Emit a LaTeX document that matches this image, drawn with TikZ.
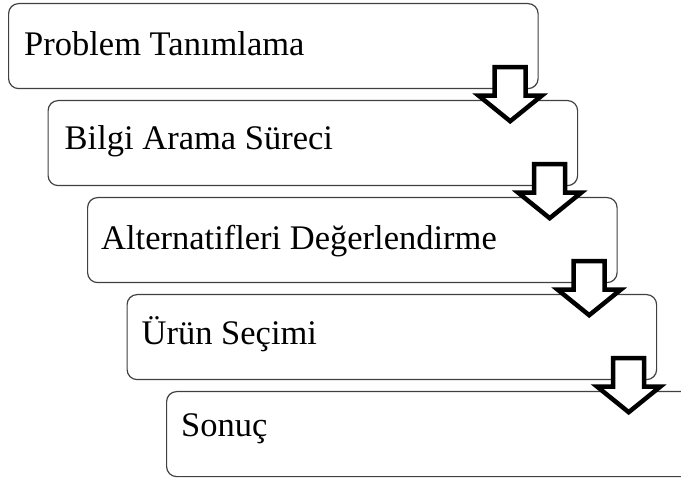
\documentclass[tikz,border=0pt]{standalone}
\usepackage{fontspec}
\setmainfont{Liberation Serif}
\usetikzlibrary{calc,positioning}

\tikzset{
  stage/.style={draw=black!75, line width=1.2pt, fill=white, rounded corners=10pt,
    minimum width=529.5pt, minimum height=85pt, inner sep=0pt, anchor=north west},
  stagetext/.style={anchor=base west, inner sep=0pt, font=\fontsize{34.5pt}{40pt}\selectfont},
  arrowline/.style={draw=black, line width=4.5pt, fill=white, line join=miter},
  downarrow/.pic={
    \path[arrowline] (-15.5,0) -- (15.5,0) -- (15.5,28.5) -- (31.5,28.5)
      -- (0,54) -- (-31.5,28.5) -- (-15.5,28.5) -- cycle;
  }
}

\begin{document}
\begin{tikzpicture}[x=1pt,y=-1pt]
\useasboundingbox (0,0) rectangle (681,481);
\clip (0,0) rectangle (681,481);

% the five steps, each one shifted right and down
\node[stage] (step1) at (8,3) {};
\node[stage] (step2) at (47.5,100) {};
\node[stage] (step3) at (87,197) {};
\node[stage] (step4) at (126.5,294) {};
\node[stage] (step5) at (166,391) {};

\node[stagetext] (txt1) at ($(step1.north west)+(16,53)$) {Problem Tanımlama};
\node[stagetext] (txt2) at ($(step2.north west)+(17,50)$) {Bilgi Arama Süreci};
\node[stagetext] (txt3) at ($(step3.north west)+(14,53)$) {Alternatifleri Değerlendirme};
\node[stagetext] (txt4) at ($(step4.north west)+(15,51)$) {Ürün Seçimi};
\node[stagetext] (txt5) at ($(step5.north west)+(15,46)$) {Sonuç};

% hollow arrows between the steps
\pic at ($(step1.south east)+(-28.5,-22)$) {downarrow};
\pic at ($(step2.south east)+(-28.5,-22)$) {downarrow};
\pic at ($(step3.south east)+(-28.5,-22)$) {downarrow};
\pic at ($(step4.south east)+(-28.5,-22)$) {downarrow};

\end{tikzpicture}
\end{document}
